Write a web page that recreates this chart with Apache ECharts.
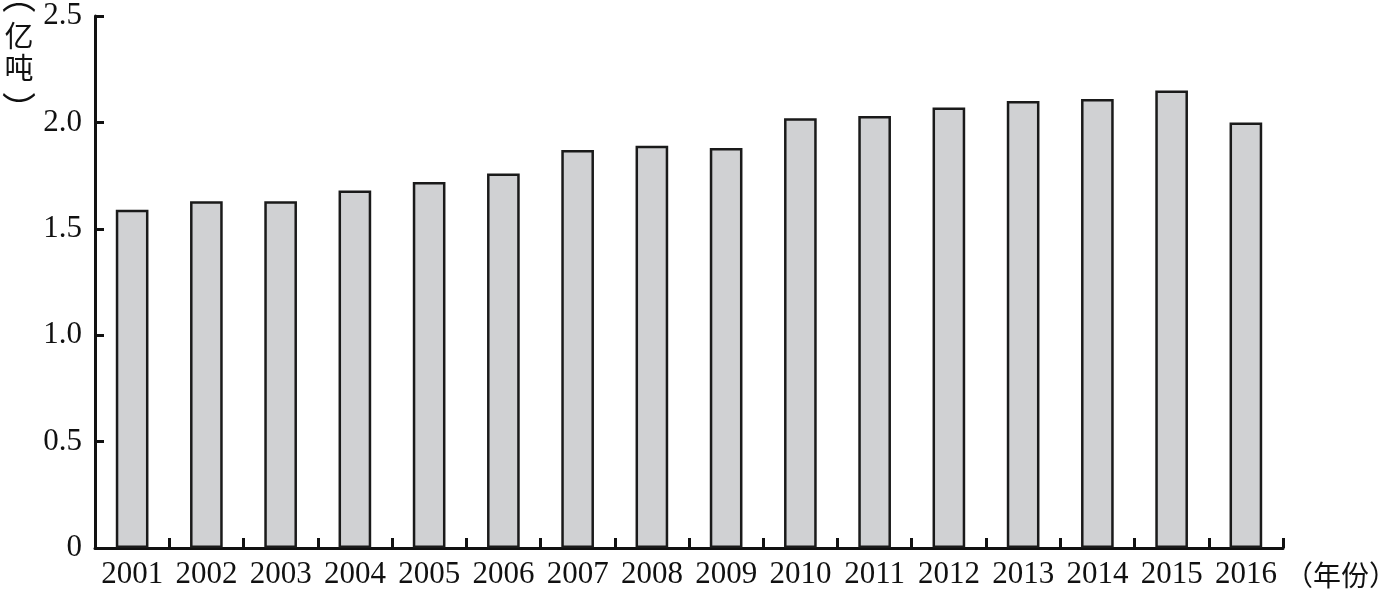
<!DOCTYPE html>
<html><head><meta charset="utf-8">
<script src="https://cdn.jsdelivr.net/npm/echarts@6/dist/echarts.min.js"></script>
<style>html,body{margin:0;padding:0;background:#fff}#c{width:1397px;height:591px}</style>
</head><body><div id="c"></div>
<script>
const years = ['2001','2002','2003','2004','2005','2006','2007','2008','2009','2010','2011','2012','2013','2014','2015','2016'];
const values = [1.59,1.63,1.63,1.68,1.72,1.76,1.87,1.89,1.88,2.02,2.03,2.07,2.10,2.11,2.15,2.00];
const yTicks = [0,0.5,1.0,1.5,2.0,2.5];
const yNameChars = ['︵','亿','吨','︶'];
const xName = '（年份）';

const serif = '"Liberation Serif","DejaVu Serif",serif';
const cjk = '"Noto Sans CJK SC","Liberation Serif",serif';
const chart = echarts.init(document.getElementById('c'));
chart.setOption({
  animation:false,
  backgroundColor:'#fff',
  grid:{left:95,right:114,top:16,bottom:43,containLabel:false},
  xAxis:{type:'category',data:years,
    axisLine:{lineStyle:{color:'#111',width:3}},
    axisTick:{show:true,inside:true,length:10,alignWithLabel:false,lineStyle:{color:'#111',width:3}},
    axisLabel:{color:'#111',fontFamily:serif,fontSize:31,margin:11,interval:0}
  },
  yAxis:{type:'value',min:0,max:2.5,interval:0.5,
    axisLine:{show:true,lineStyle:{color:'#111',width:3}},
    axisTick:{show:true,inside:true,length:9,lineStyle:{color:'#111',width:3}},
    splitLine:{show:false},
    axisLabel:{color:'#111',fontFamily:serif,fontSize:31,margin:13,
      formatter:function(v){return v===0?'0':v.toFixed(1);}}
  },
  series:[{type:'bar',data:values,barWidth:'44%',
    itemStyle:{color:'#d0d1d3',borderColor:'#1a1a1a',borderWidth:2.5}}],
  graphic:[
    {type:'text',x:19,y:-4,style:{text:yNameChars[0],font:'34px '+cjk,fill:'#111',align:'center',verticalAlign:'middle'}},
    {type:'text',x:19,y:36,style:{text:yNameChars[1],font:'29px '+cjk,fill:'#111',align:'center',verticalAlign:'middle'}},
    {type:'text',x:19,y:68,style:{text:yNameChars[2],font:'29px '+cjk,fill:'#111',align:'center',verticalAlign:'middle'}},
    {type:'text',x:19,y:109,style:{text:yNameChars[3],font:'34px '+cjk,fill:'#111',align:'center',verticalAlign:'middle'}},
    {type:'text',x:1285,y:575,style:{text:xName,font:'28px '+cjk,fill:'#111',verticalAlign:'middle'}}
  ]
});
</script></body></html>
